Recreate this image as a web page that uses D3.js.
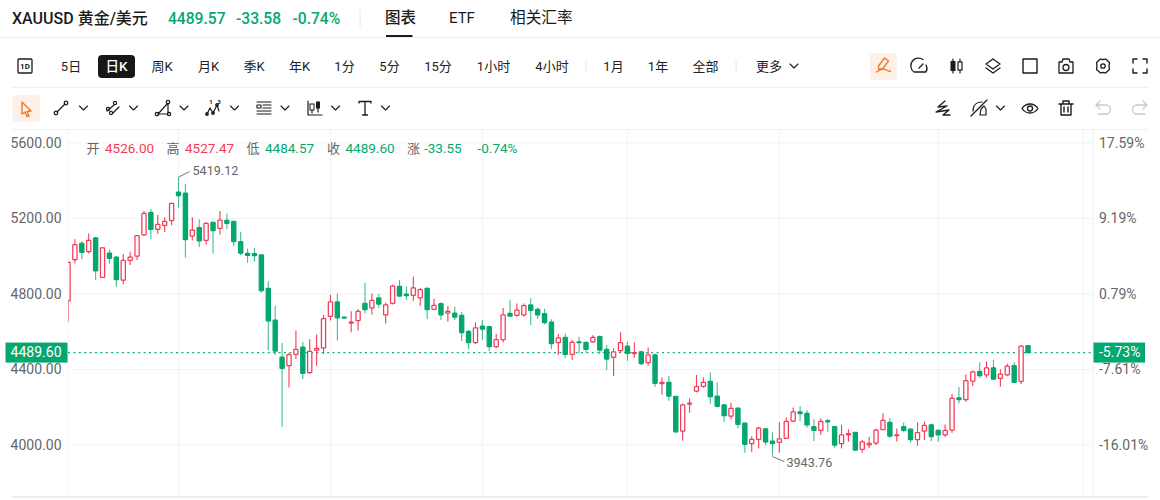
<!DOCTYPE html>
<html>
<head>
<meta charset="utf-8">
<title>XAUUSD</title>
<style>
html,body{margin:0;padding:0;background:#fff;overflow:hidden;}
svg{display:block;}
text{font-family:Roboto,"Noto Sans CJK SC",sans-serif;}
</style>
</head>
<body>
<div id="chart"></div>
<script src="https://cdn.jsdelivr.net/npm/d3@7"></script>
<script>
'use strict';
// daily candles
var opens=[4763,4982,5068,5024,5098,4888,5017,4996,4874,4978,5001,5113,5233,5143,5164,5189,5340,5335,5107,5151,
5084,5180,5148,5190,5185,5077,5015,5014,5007,4830,4661,4465,4420,4480,4519,4383,4502,4514,4682,4758,
4677,4646,4659,4750,4727,4779,4690,4750,4840,4800,4793,4780,4830,4719,4749,4699,4699,4687,4602,4542,
4630,4627,4521,4558,4697,4687,4689,4742,4719,4696,4651,4542,4570,4480,4547,4544,4547,4574,4507,4464,
4500,4524,4485,4494,4436,4477,4325,4332,4258,4074,4217,4286,4311,4337,4259,4213,4153,4196,4116,4007,
4030,4086,4021,4014,4035,4127,4176,4168,4097,4077,4129,4097,4007,4054,4067,3977,4001,4010,4081,4120,
4051,4097,4084,4028,4074,4107,4077,4054,4079,4250,4240,4339,4390,4371,4409,4353,4372,4420,4337,4526];
var highs=[4968,5090,5081,5121,5100,5047,5035,5001,5012,5024,5111,5240,5250,5219,5206,5284,5419.12,5383,5206,5196,
5180,5181,5240,5226,5187,5130,5040,5044,5010,4869,4738,4540,4489,4606,4547,4560,4585,4689,4796,4803,
4677,4708,4720,4860,4803,4800,4754,4849,4874,4840,4893,4832,4835,4775,4756,4736,4733,4704,4609,4650,
4662,4632,4588,4726,4768,4750,4750,4777,4729,4722,4666,4588,4591,4556,4574,4547,4582,4582,4530,4512,
4598,4547,4544,4500,4517,4485,4357,4365,4259,4220,4247,4371,4358,4385,4332,4215,4224,4199,4118,4046,
4097,4090,4067,4120,4146,4199,4206,4185,4136,4141,4138,4099,4107,4084,4069,4026,4042,4088,4168,4143,
4088,4120,4088,4120,4125,4114,4084,4109,4270,4307,4374,4395,4438,4443,4452,4401,4431,4438,4528,4527.47];
var lows=[4653,4962,4985,5015,4874,4887,4962,4839,4851,4954,4980,5107,5092,5118,5129,5164,5258,4994,5083,5049,
5061,5014,5114,5144,5053,5007,4966,4971,4807,4502,4477,4097,4304,4456,4350,4378,4420,4482,4659,4553,
4674,4598,4606,4697,4692,4727,4644,4745,4786,4768,4764,4736,4666,4715,4662,4653,4662,4551,4507,4535,
4556,4498,4512,4544,4680,4680,4680,4636,4667,4639,4508,4477,4462,4450,4485,4491,4542,4480,4397,4365,
4489,4447,4462,4424,4420,4309,4266,4235,4065,4023,4171,4279,4303,4217,4199,4122,4136,4088,3959,3963,
3982,4000,3943.76,3959,4032,4120,4127,4092,4021,4053,4070,3986,3982,4017,3970,3959,3984,4000,4079,4039,
4019,4067,4012,3996,4026,4021,4017,4042,4065,4220,4229,4312,4356,4358,4344,4309,4367,4328,4323,4484.57];
var closes=[4968,5061,5021,5084,4922,5044,4989,4876,4978,4996,5109,5227,5143,5169,5185,5280,5321,5088,5139,5081,
5174,5136,5192,5174,5077,5017,5005,5003,4818,4657,4498,4406,4479,4507,4380,4496,4512,4669,4758,4674,
4675,4651,4708,4717,4766,4747,4742,4842,4789,4791,4833,4823,4717,4740,4690,4708,4678,4595,4542,4621,
4614,4521,4558,4690,4683,4715,4738,4713,4689,4648,4537,4568,4480,4544,4542,4507,4570,4503,4455,4494,
4542,4485,4489,4431,4478,4327,4332,4259,4070,4212,4222,4309,4332,4256,4205,4155,4194,4109,4003,4030,
4090,4016,4007,4033,4125,4176,4166,4106,4077,4125,4122,4000,4054,4060,3973,4017,4009,4079,4130,4047,
4054,4077,4028,4065,4104,4044,4054,4077,4247,4240,4341,4388,4367,4409,4349,4376,4418,4332,4524,4489.6];
// index of the candle under each month gridline
var monthTicks=[0,16,38,60,81,103,126,147];
var priceTicks=[5600,5200,4800,4400,4000];
var percentLabels=['17.59%','9.19%','0.79%','-7.61%','-16.01%'];
var lastPrice=4489.6;
var lastPercent='-5.73%';
var highMark={index:16,value:5419.12};
var lowMark={index:102,value:3943.76};
var tabLabels=['5日','周K','月K','季K','年K','1分','5分','15分','1小时','4小时','1月','1年','全部','更多'];
var tabCenters=[71,162,208.5,254,299.5,344.5,389.5,438,493.5,552,613.5,658,705.5,769];
var ohlcNames=['开','高','低','收','涨'];

var RED='#f43b58',GREEN='#03a86f',GREY='#666',INK='#1b1b1b',ORANGE='#f5761f';

var width=1160,height=500;
var svg=d3.select('#chart').append('svg').attr('width',width).attr('height',height);

var x=d3.scaleLinear().domain([0,139]).range([68,1028]);
var y=d3.scaleLinear().domain([4000,5600]).range([445,143]);

function label(px,py,str,color,size,weight,anchor){
    return svg.append('text')
        .attr('x',px).attr('y',py)
        .attr('dy','0.35em')
        .attr('fill',color)
        .attr('font-size',size)
        .attr('font-weight',weight||400)
        .attr('text-anchor',anchor||'start')
        .text(str);
}
function rule(x1,y1,x2,y2,color,w){
    svg.append('line').attr('x1',x1).attr('y1',y1).attr('x2',x2).attr('y2',y2)
        .attr('stroke',color).attr('stroke-width',w||1);
}

// header
label(12,18,'XAUUSD 黄金/美元',INK,16,500);
label(168,18.5,'4489.57',GREEN,15.6,500);
label(236,18.5,'-33.58',GREEN,15.6,500);
label(292.5,18.5,'-0.74%',GREEN,15.6,500);
rule(360,9,360,27,'#e6e6e6');
label(385,17.5,'图表',INK,15.5,500);
label(449,17.5,'ETF',INK,15,400);
label(510,17.5,'相关汇率',INK,15.7,400);
rule(0,37.5,1160,37.5,'#ededed');
rule(386,36,412.5,36,INK,2);

// period tabs
svg.append('rect').attr('x',98).attr('y',55).attr('width',37).attr('height',23).attr('rx',4).attr('fill','#17181a');
label(116.5,66.5,'日K','#fff',13.5,500,'middle');
tabLabels.forEach(function(t,i){
    label(tabCenters[i],66.5,t,'#222',13,400,'middle');
});
rule(586,60,586,72,'#e6e6e6');
rule(736,60,736,72,'#e6e6e6');
rule(12,87.5,1148,87.5,'#efefef');
rule(12,129.5,1148,129.5,'#efefef');

// toolbar icons, drawn around their centre
function icon(cx,cy,d,color,w){
    svg.append('path').attr('transform','translate('+cx+','+cy+')')
        .attr('d',d).attr('fill','none').attr('stroke',color||INK)
        .attr('stroke-width',w||1.3).attr('stroke-linecap','round').attr('stroke-linejoin','round');
}
function chevron(cx,cy){ icon(cx,cy,'M-4,-2L0,2L4,-2',INK,1.1); }
function circle(r,cx,cy){ return 'M'+(cx-r)+','+cy+'a'+r+','+r+' 0 1,0 '+(2*r)+',0a'+r+','+r+' 0 1,0 '+(-2*r)+',0'; }

icon(25,66,'M-6,-7H6a1,1 0 0 1 1,1V6a1,1 0 0 1 -1,1H-6a1,1 0 0 1 -1,-1V-6a1,1 0 0 1 1,-1Z',INK,1.3);
label(25,66,'1D',INK,8,700,'middle');
svg.append('rect').attr('x',870).attr('y',53).attr('width',27).attr('height',27).attr('rx',4).attr('fill','#fdf0e7');
svg.append('rect').attr('x',12.5).attr('y',95).attr('width',27.5).attr('height',27).attr('rx',4).attr('fill','#fdf0e7');
icon(883.5,65,'M-5,1L1,-7L5,-4L-1,4H-5ZM-7,7C-3,4 0,3 3,5C5,6 6,7 7,6',ORANGE,1.3);
icon(920,66,'M-6,6A7,7 0 0 1 3,-6.5M-6,6H6A7,7 0 0 0 6,-1M-1,2L3,-2',INK,1.3);
icon(956,66,'M-3,-7V7M4,-7V7',INK,1.2);
svg.append('rect').attr('x',950.5).attr('y',61).attr('width',5).attr('height',10).attr('fill',INK);
svg.append('rect').attr('x',958).attr('y',62).attr('width',4).attr('height',8).attr('fill','#fff').attr('stroke',INK).attr('stroke-width',1.2);
icon(993,66,'M0,-7L7,-2L0,3L-7,-2ZM-7,2L0,7L7,2',INK,1.3);
icon(1030,66,'M-7,-7H7V7H-7Z',INK,1.4);
icon(1066,66,'M-7,-4H-4L-3,-7H3L4,-4H7V7H-7Z'+circle(3,0,1.5),INK,1.3);
icon(1103,66,'M-2.5,-7Q0,-6 2.5,-7L6.5,-3.5Q5.5,0 6.5,3.5L2.5,7Q0,6 -2.5,7L-6.5,3.5Q-5.5,0 -6.5,-3.5Z'+circle(2.2,0,0),INK,1.3);
icon(1140,66,'M-7,-3V-7H-3M3,-7H7V-3M7,3V7H3M-3,7H-7V3',INK,1.4);

icon(26,109,'M-4,-7L5,2L1,2.5L3,7L1,7.5L-1,3L-4,5Z',ORANGE,1.4);
icon(61,108,'M-4,4L4,-4'+circle(1.8,-5,5)+circle(1.8,5,-5),INK,1.2);
chevron(83.5,108);
icon(113,108,'M-6,3L1,-3M-1,6L6,-1'+circle(1.6,-5,1)+circle(1.6,2,-5)+circle(1.6,-2,5),INK,1.2);
chevron(133.5,108);
icon(163,108,'M-5,6H5M-5,6L4,-4M5,6L5,-4'+circle(1.7,-6,6)+circle(1.7,6,6)+circle(1.7,5,-6),INK,1.2);
chevron(184,108);
icon(213,108,'M-6,6L-3,0L0,5L4,-3L6,3'+circle(1.3,-6,6)+circle(1.3,0,5)+circle(1.3,4,-3),INK,1.2);
label(211,102,'1',INK,6,700,'middle');
label(219,102,'3',INK,6,700,'middle');
chevron(234.5,108);
icon(264,108,'M-7,-6H7M-1,-3H7M-1,0H7M-7,3H7M-7,6H7M-7,-3H-3V0H-7Z',INK,1.1);
chevron(285,108);
icon(315,108,'M-7,-7V7H7M-3,-3V5M3,-6V4',INK,1.2);
svg.append('rect').attr('x',310).attr('y',104).attr('width',4).attr('height',6).attr('fill','#fff').attr('stroke',INK);
svg.append('rect').attr('x',316).attr('y',101.5).attr('width',4).attr('height',7).attr('fill',INK);
chevron(335.5,108);
icon(365,108,'M-6,-5V-6.5H6V-5M0,-6.5V7M-2.5,7H2.5',INK,1.3);
chevron(385.5,108);
icon(943,108,'M2,-7L-5,-1L4,-2L-7,4L6,2L0,7H7',INK,1.3);
icon(979,108,'M-8,8L8,-8M-6,3C-6,-3 -2,-6 3,-6M1,7H7V1L5,-2L2,1Z',INK,1.2);
chevron(1000.5,108);
icon(1030,108.5,'M-8,0C-4,-6 4,-6 8,0C4,6 -4,6 -8,0Z'+circle(2.5,0,0),INK,1.3);
icon(1066,108,'M-7,-4H7M-5,-4V7H5V-4M-3,-4V-7H3V-4M-2,-1V4M2,-1V4',INK,1.4);
icon(1103,108,'M-3,-7L-7,-3L-3,1M-7,-3H3A4,4 0 0 1 3,6H-5','#c9c9c9',1.3);
icon(1140,108,'M3,-7L7,-3L3,1M7,-3H-3A4,4 0 0 0 -3,6H5','#c9c9c9',1.3);

// grid
var gridColor='#f3f3f4';
svg.append('g').selectAll('line').data(monthTicks).join('line')
    .attr('x1',function(d){return x(d);}).attr('x2',function(d){return x(d);})
    .attr('y1',130).attr('y2',497)
    .attr('stroke',gridColor);
svg.append('g').selectAll('line').data(priceTicks).join('line')
    .attr('x1',68).attr('x2',1093)
    .attr('y1',function(d){return y(d);}).attr('y2',function(d){return y(d);})
    .attr('stroke',gridColor);
rule(1093,130,1093,497,'#f0f0f1');
rule(12,497,1148,497,'#e6e6e6',1.6);

// axes
var leftAxis=d3.axisLeft(y).tickValues(priceTicks).tickSize(0).tickPadding(0)
    .tickFormat(function(d){return d3.format('.2f')(d);});
var leftG=svg.append('g').attr('transform','translate(61.5,0)').call(leftAxis);
var rightAxis=d3.axisRight(y).tickValues(priceTicks).tickSize(0).tickPadding(0)
    .tickFormat(function(d,i){return percentLabels[i];});
var rightG=svg.append('g').attr('transform','translate(1099,0)').call(rightAxis);
[leftG,rightG].forEach(function(g){
    g.select('.domain').remove();
    g.selectAll('text').attr('fill',GREY).attr('font-size',14)
        .attr('font-family','Roboto,"Noto Sans CJK SC",sans-serif');
});

// last price line
svg.append('line').attr('x1',68).attr('x2',1093)
    .attr('y1',y(lastPrice)).attr('y2',y(lastPrice))
    .attr('stroke','#06b27a').attr('stroke-width',1.2).attr('stroke-dasharray','2 3.4');

// candles
svg.append('clipPath').attr('id','plot').append('rect')
    .attr('x',68).attr('y',130).attr('width',1025).attr('height',367);
var candles=d3.range(opens.length);
var plot=svg.append('g').attr('clip-path','url(#plot)');
plot.selectAll('line.wick').data(candles).join('line')
    .attr('class','wick')
    .attr('x1',function(i){return x(i);}).attr('x2',function(i){return x(i);})
    .attr('y1',function(i){return y(highs[i]);}).attr('y2',function(i){return y(lows[i]);})
    .attr('stroke',function(i){return closes[i]>=opens[i]?RED:GREEN;})
    .attr('stroke-opacity',function(i){return closes[i]>=opens[i]?1:0.75;})
    .attr('stroke-width',1.1);
plot.selectAll('rect.body').data(candles).join('rect')
    .attr('class','body')
    .attr('x',function(i){return x(i)-2.1;})
    .attr('width',4.2)
    .attr('y',function(i){return y(Math.max(opens[i],closes[i]));})
    .attr('height',function(i){return Math.max(0.8,Math.abs(y(opens[i])-y(closes[i])));})
    .attr('rx',0.6)
    .attr('fill',function(i){return closes[i]>=opens[i]?'#fff':GREEN;})
    .attr('stroke',function(i){return closes[i]>=opens[i]?RED:GREEN;})
    .attr('stroke-width',1.25);

// high / low marks
rule(x(highMark.index),y(highMark.value),x(highMark.index)+11,y(highMark.value)-5.5,'#777');
label(x(highMark.index)+14,y(highMark.value)-6.5,d3.format('.2f')(highMark.value),GREY,12.6);
rule(x(lowMark.index),y(lowMark.value)+1,x(lowMark.index)+12,y(lowMark.value)+6,'#777');
label(x(lowMark.index)+14,y(lowMark.value)+6.5,d3.format('.2f')(lowMark.value),GREY,12.6);

// price tags
svg.append('rect').attr('x',5.5).attr('y',y(lastPrice)-10).attr('width',62).attr('height',20).attr('fill',GREEN);
label(61.5,y(lastPrice),d3.format('.2f')(lastPrice),'#fff',14,400,'end');
svg.append('rect').attr('x',1093.5).attr('y',y(lastPrice)-10).attr('width',51.5).attr('height',20).attr('fill',GREEN);
label(1099,y(lastPrice),lastPercent,'#fff',14);

// OHLC strip
var stripY=148.5;
label(86.5,stripY,ohlcNames[0],GREY,13);
label(105,stripY,d3.format('.2f')(opens[139]),RED,13.5);
label(166.5,stripY,ohlcNames[1],GREY,13);
label(185,stripY,d3.format('.2f')(highs[139]),RED,13.5);
label(246.5,stripY,ohlcNames[2],GREY,13);
label(265,stripY,d3.format('.2f')(lows[139]),GREEN,13.5);
label(327,stripY,ohlcNames[3],GREY,13);
label(345.5,stripY,d3.format('.2f')(closes[139]),GREEN,13.5);
label(407,stripY,ohlcNames[4],GREY,13);
label(424,stripY,'-33.55',GREEN,13.5);
label(477.5,stripY,'-0.74%',GREEN,13.5);

icon(794,66,'M-4,-2L0,2L4,-2',INK,1.1);
</script>
</body>
</html>
